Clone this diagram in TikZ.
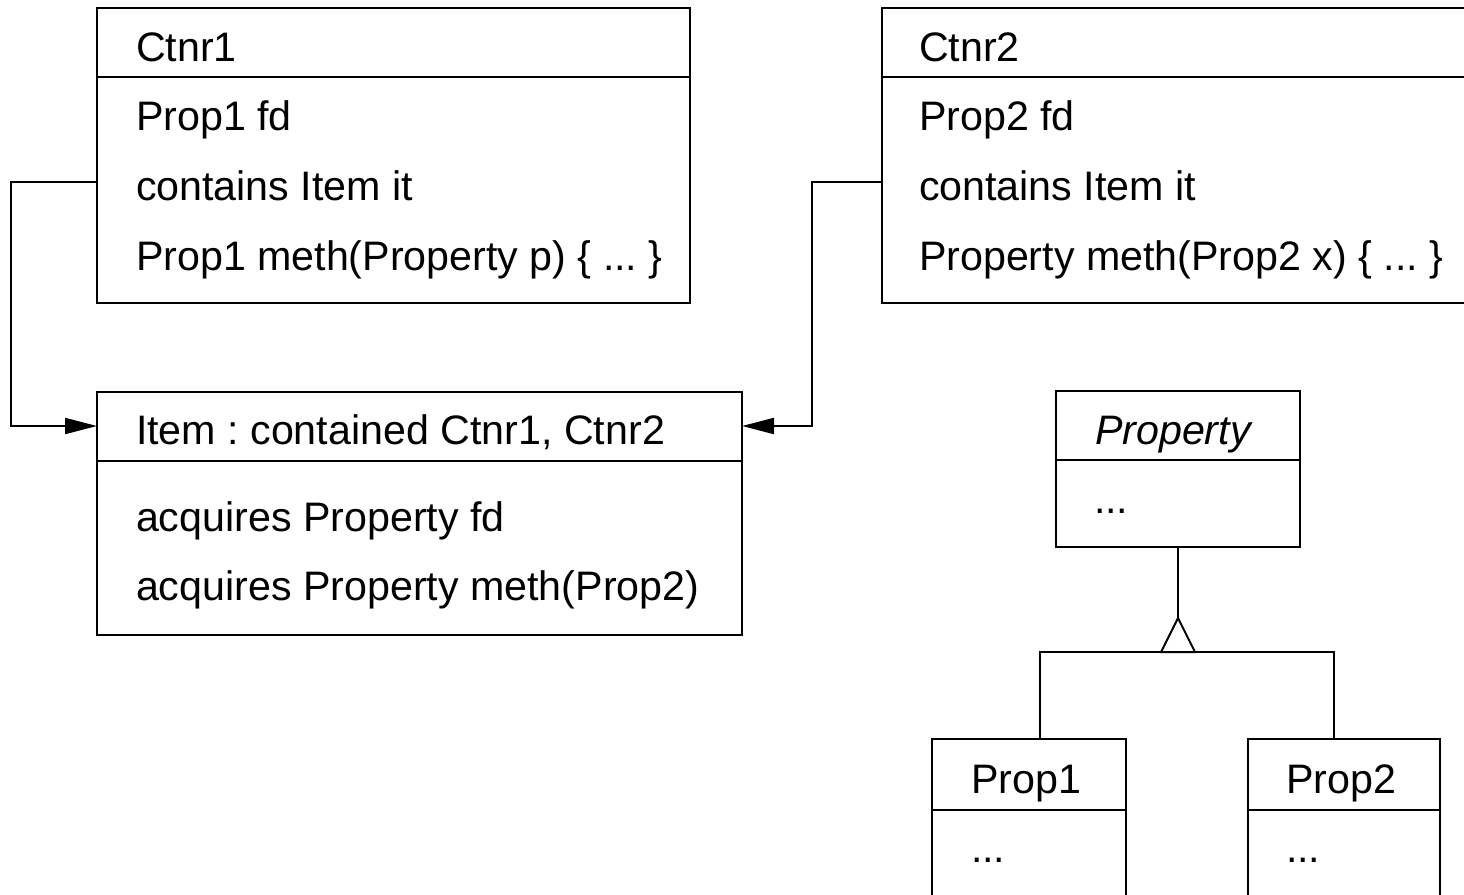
\documentclass[tikz,border=0pt]{standalone}
\usepackage{fontspec}
\setmainfont{Liberation Sans}
\usetikzlibrary{fit,arrows.meta}
\begin{document}
\frenchspacing
\begin{tikzpicture}[x=0.5pt,y=-0.5pt,line width=1pt,
  box/.style={draw,fit={#1},inner sep=0pt},
  lbl/.style={anchor=base west,inner sep=0pt,font=\fontsize{20.6}{24}\selectfont},
  assoc/.style={-{Triangle[length=16pt,width=8pt]}}]
\useasboundingbox (0,0) rectangle (1464,895);
\clip (0,0) rectangle (1464,895);

% class boxes
\node[box={(97,8) (690,303)}]    (ctnr1) {};
\node[box={(882,8) (1490,303)}]  (ctnr2) {};
\node[box={(97,392) (742,635)}]  (item) {};
\node[box={(1056,391) (1300,547)}] (property) {};
\node[box={(932,739) (1126,930)}]  (prop1) {};
\node[box={(1248,739) (1440,930)}] (prop2) {};

% compartment dividers
\draw (ctnr1.west |- 0,77) -- (ctnr1.east |- 0,77);
\draw (ctnr2.west |- 0,77) -- (ctnr2.east |- 0,77);
\draw (item.west |- 0,461) -- (item.east |- 0,461);
\draw (property.west |- 0,460) -- (property.east |- 0,460);
\draw (prop1.west |- 0,810) -- (prop1.east |- 0,810);
\draw (prop2.west |- 0,810) -- (prop2.east |- 0,810);

% Ctnr1
\node[lbl] (c1t) at (135,61)  {Ctnr1};
\node[lbl] (c1a) at (135,130) {Prop1 fd};
\node[lbl] (c1b) at (135,200) {contains Item it};
\node[lbl] (c1c) at (135,270) {Prop1 meth(Property p) \{ ... \}};

% Ctnr2
\node[lbl] (c2t) at (918,61)  {Ctnr2};
\node[lbl] (c2a) at (918,130) {Prop2 fd};
\node[lbl] (c2b) at (918,200) {contains Item it};
\node[lbl] (c2c) at (918,270) {Property meth(Prop2 x) \{ ... \}};

% Item
\node[lbl] (it)  at (135,444) {Item : contained Ctnr1, Ctnr2};
\node[lbl] (ia)  at (135,531) {acquires Property fd};
\node[lbl] (ib)  at (135,600) {acquires Property meth(Prop2)};

% Property hierarchy
\node[lbl] (pt)  at (1094,444) {\itshape Property};
\node[lbl] (pa)  at (1093,513) {...};
\node[lbl] (p1t) at (970,793)  {Prop1};
\node[lbl] (p1a) at (970,862)  {...};
\node[lbl] (p2t) at (1285,793) {Prop2};
\node[lbl] (p2a) at (1285,862) {...};

% containment links
\coordinate (c1port) at (97,182);
\coordinate (c2port) at (882,182);
\coordinate (iL) at (97,426);
\coordinate (iR) at (742,426);
\draw[assoc] (c1port) -- (11,182) -- (11,426) -- (iL);
\draw[assoc] (c2port) -- (812,182) -- (812,426) -- (iR);

% generalization
\coordinate (apex) at (1178,618);
\coordinate (p1top) at (1040,739);
\coordinate (p2top) at (1334,739);
\draw (property.south -| apex) -- (apex);
\draw (p1top) -- (1040,652) -- (1334,652) -- (p2top);
\draw[fill=white] (1161,652) -- (apex) -- (1195,652) -- cycle;
\end{tikzpicture}
\end{document}
